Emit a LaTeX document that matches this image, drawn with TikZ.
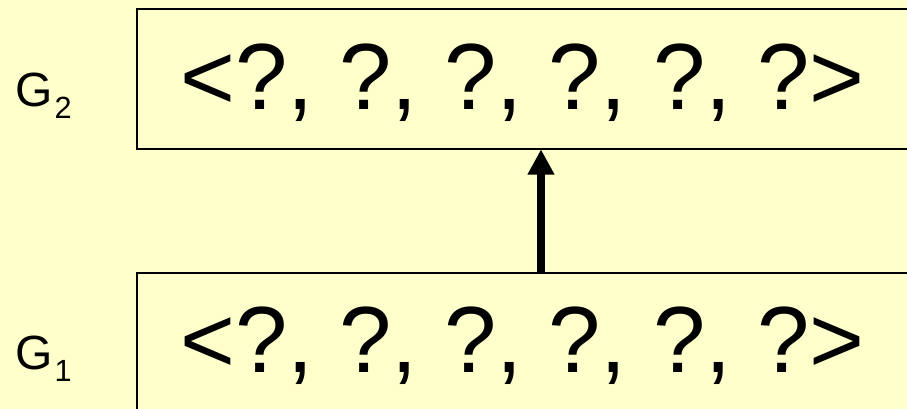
\documentclass[tikz,border=0pt]{standalone}
\usepackage{fontspec}
\setmainfont{Liberation Sans}
\usetikzlibrary{arrows.meta}
\definecolor{bgyellow}{RGB}{255,255,204}
\tikzset{
  regbox/.style={draw=black, line width=1.5pt, fill=bgyellow, rectangle, inner sep=0pt, minimum width=790*0.75pt, minimum height=140*0.75pt},
  tuple/.style={anchor=base west, inner sep=0pt, font=\fontsize{70.5}{70.5}\selectfont},
  glabel/.style={anchor=base west, inner sep=0pt, font=\fontsize{36}{36}\selectfont},
  uparrow/.style={line width=6pt, -{Triangle[width=19pt,length=19pt]}, shorten >=-0.5pt}
}
\newcommand{\gsub}[1]{\hspace{1.5pt}\raisebox{-9pt}{\fontsize{23}{23}\selectfont #1}}
\begin{document}
\begin{tikzpicture}[x=0.75pt,y=-0.75pt]
\fill[bgyellow] (0,0) rectangle (907,409);
\useasboundingbox (0,0) rectangle (907,409);
\clip (0,0) rectangle (907,409);
\node[regbox, anchor=north west] (top) at (136,8) {};
\node[regbox, anchor=north west] (bot) at (136,272) {};
\node[tuple] (ttop) at (180,110) {<?, ?, ?, ?, ?, ?>};
\node[tuple] (tbot) at (180,373) {<?, ?, ?, ?, ?, ?>};
\node[glabel] (g2) at (15,107) {G\gsub{2}};
\node[glabel] (g1) at (15,370) {G\gsub{1}};
\coordinate (afrom) at (bot.north west -| 541,0);
\coordinate (ato) at (top.south west -| 541,0);
\draw[uparrow] (afrom) -- (ato);
\end{tikzpicture}
\end{document}
